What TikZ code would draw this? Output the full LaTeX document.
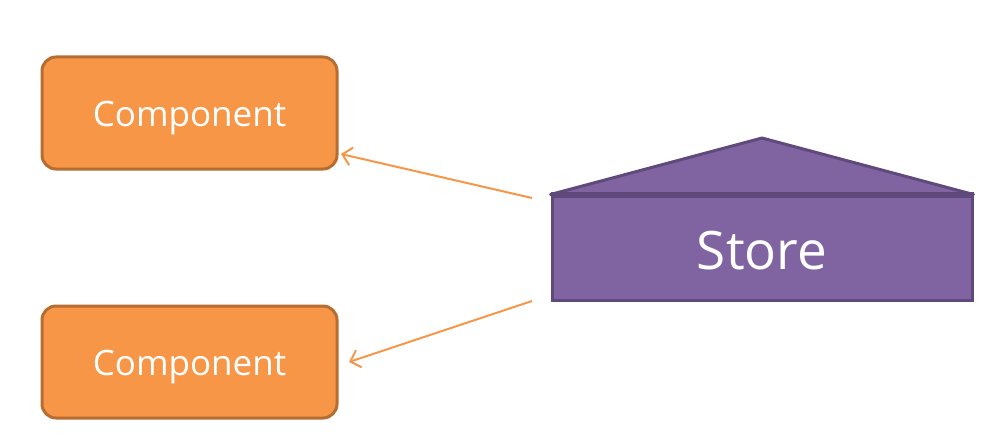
\documentclass[tikz,border=0pt]{standalone}
\usepackage{fontspec}
\setmainfont{Open Sans}
\usetikzlibrary{arrows.meta}
\definecolor{compfill}{HTML}{F79646}
\definecolor{compdraw}{HTML}{B66D31}
\definecolor{storefill}{HTML}{8064A2}
\definecolor{storedraw}{HTML}{5F4A7B}
\tikzset{
  comp/.style={draw=compdraw, fill=compfill, line width=3pt, rounded corners=14pt,
    minimum width=295pt, minimum height=112pt, inner sep=0pt, text=white,
    text height=26.4pt, text depth=0pt,
    font=\fontsize{35}{38}\selectfont},
  storebox/.style={draw=storedraw, fill=storefill, line width=3pt,
    minimum width=420pt, minimum height=104pt, inner sep=0pt, text=white,
    text height=43.8pt, text depth=0pt,
    font=\fontsize{53}{58}\selectfont},
  conn/.style={draw=compfill, line width=2pt, -{Straight Barb[length=9pt,width=18pt,line width=2pt]}}
}
\begin{document}
\begin{tikzpicture}[x=1pt,y=-1pt]
\useasboundingbox (0,0) rectangle (993,444);
\node[comp] (c1) at (189.5,113) {Component};
\node[comp] (c2) at (189.5,362) {Component};
\node[storebox] (s) at (762,248) {Store};
\coordinate (apex) at (762,138);
\draw[storedraw, fill=storefill, line width=3pt, line join=round] (s.north west) -- (apex) -- (s.north east) -- cycle;
\draw[storedraw, line width=5pt] (s.north west) -- (s.north east);
\coordinate (a1) at (532,198);
\coordinate (a2) at (532,301);
\coordinate (t1) at (341,154);
\coordinate (t2) at (349,362);
\draw[conn] (a1) -- (t1);
\draw[conn] (a2) -- (t2);
\end{tikzpicture}
\end{document}
